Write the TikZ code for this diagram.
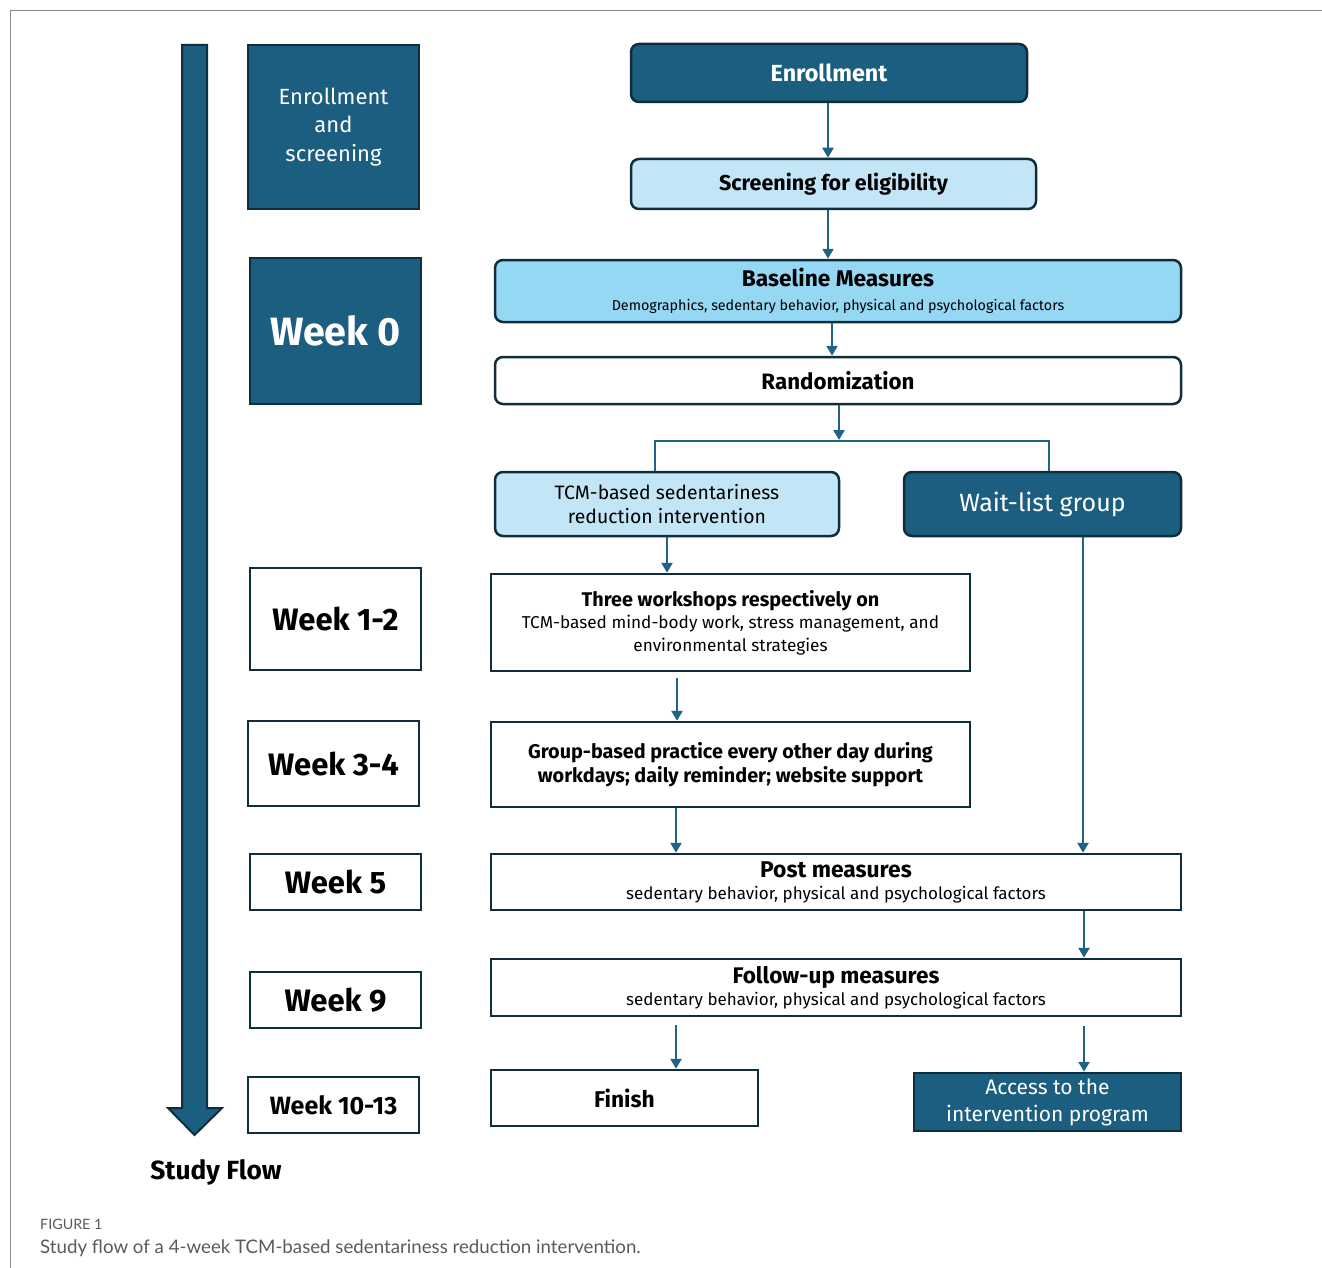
\documentclass[tikz,border=0pt]{standalone}
\usepackage{fontspec}
\setmainfont{Fira Sans}
\newfontfamily\capfont{Lato}
\usetikzlibrary{arrows.meta}
\definecolor{dkblue}{HTML}{1B5E80}
\definecolor{dkline}{HTML}{0E2E3E}
\definecolor{lblue}{HTML}{C3E6F6}
\definecolor{mblue}{HTML}{95D8F4}
\definecolor{arrcol}{HTML}{1F6485}
\definecolor{framecol}{HTML}{8A8A8A}
\definecolor{capgray}{HTML}{5A5A5A}
\newcommand{\fsz}[2]{\fontsize{#1}{#2}\selectfont}
\tikzset{
  base/.style={draw=dkline, line width=2.5pt, inner sep=0pt, align=center, text=black},
  dkbox/.style={base, fill=dkblue, text=white},
  lbbox/.style={base, fill=lblue},
  mbbox/.style={base, fill=mblue},
  wbox/.style={base, fill=white},
  rnd/.style={rounded corners=8pt},
  arr/.style={draw=arrcol, line width=2.5pt, -{Triangle[width=11pt,length=10pt]}},
  conn/.style={draw=arrcol, line width=2.5pt},
}
\begin{document}
\begin{tikzpicture}[x=1pt,y=-1pt]
\useasboundingbox (0,0) rectangle (1322,1268);
% frame
\draw[framecol, line width=1pt] (10,1268) -- (10,11) -- (1322,11);
% big arrow
\draw[fill=dkblue, draw=dkline, line width=2pt, line join=miter]
  (182,45) -- (207,45) -- (207,1108) -- (222,1108) -- (194.5,1135) -- (168,1108) -- (182,1108) -- cycle;
% left column
\node[dkbox, minimum width=171pt, minimum height=164pt, font=\fsz{22}{28.5}] (es) at (333.5,127)
  {Enrollment\\and\\screening};
\node[dkbox, minimum width=171pt, minimum height=146pt, font=\fsz{39.5}{46}\bfseries] (w0) at (335.5,331)
  {Week 0};
\node[wbox, minimum width=171pt, minimum height=102pt, font=\fsz{31}{36}\bfseries] (w12) at (335.5,619)
  {Week 1-2};
\node[wbox, minimum width=171pt, minimum height=85pt, font=\fsz{31}{36}\bfseries] (w34) at (333.5,763.5)
  {Week 3-4};
\node[wbox, minimum width=171pt, minimum height=56pt, font=\fsz{31}{36}\bfseries] (w5) at (335.5,882)
  {Week 5};
\node[wbox, minimum width=171pt, minimum height=56pt, font=\fsz{31}{36}\bfseries] (w9) at (335.5,1000)
  {Week 9};
\node[wbox, minimum width=171pt, minimum height=56pt, font=\fsz{25}{30}\bfseries] (w1013) at (333.5,1105)
  {Week 10-13};
\node[font=\fsz{26.3}{31}\bfseries] (sf) at (216,1172) {Study Flow};
% right column
\node[dkbox, rnd, minimum width=396pt, minimum height=58pt, font=\fsz{23.3}{27}\bfseries] (enr) at (829,73)
  {Enrollment};
\node[lbbox, rnd, minimum width=405pt, minimum height=50pt, font=\fsz{21.5}{25}\bfseries] (scr) at (833.5,184)
  {Screening for eligibility};
\node[mbbox, rnd, minimum width=686pt, minimum height=62pt, font=\fsz{22.7}{23.5}] (bas) at (838,291)
  {\bfseries Baseline Measures\\\fsz{14.3}{17}Demographics, sedentary behavior, physical and psychological factors};
\node[wbox, rnd, minimum width=686pt, minimum height=47pt, font=\fsz{22.3}{26}\bfseries] (rand) at (838,380.5)
  {Randomization};
\node[lbbox, rnd, minimum width=344pt, minimum height=64pt, font=\fsz{19.4}{24}] (tcm) at (667,504)
  {TCM-based sedentariness\\reduction intervention};
\node[dkbox, rnd, minimum width=277pt, minimum height=64pt, font=\fsz{25}{30}] (wait) at (1042.5,504)
  {Wait-list group};
\node[wbox, minimum width=479pt, minimum height=97pt, font=\fsz{17.2}{22.5}] (ws) at (730.5,622.5)
  {\fsz{19.8}{22.5}\bfseries Three workshops respectively on\\TCM-based mind-body work, stress management, and\\environmental strategies};
\node[wbox, minimum width=479pt, minimum height=85pt, font=\fsz{19.8}{24}\bfseries] (gp) at (730.5,764.5)
  {Group-based practice every other day during\\workdays; daily reminder; website support};
\node[wbox, minimum width=690pt, minimum height=56pt, font=\fsz{22.8}{22}] (post) at (836,882)
  {\bfseries Post measures\\\fsz{17}{19}sedentary behavior, physical and psychological factors};
\node[wbox, minimum width=690pt, minimum height=57pt, font=\fsz{22.6}{22}] (fu) at (836,987.5)
  {\bfseries Follow-up measures\\\fsz{17}{19}sedentary behavior, physical and psychological factors};
\node[wbox, minimum width=267pt, minimum height=56pt, font=\fsz{22.8}{26}\bfseries] (fin) at (624.5,1098)
  {Finish};
\node[dkbox, minimum width=267pt, minimum height=58pt, font=\fsz{21}{27}] (acc) at (1047.5,1102)
  {Access to the\\intervention program};
% connectors
\coordinate (sp) at (839,441);
\draw[arr] ([xshift=-1pt]enr.south) -- ([xshift=-5.5pt]scr.north);
\draw[arr] ([xshift=-5.5pt]scr.south) -- ([xshift=-10pt]bas.north);
\draw[arr] ([xshift=-6pt]bas.south) -- ([xshift=-6pt]rand.north);
\draw[arr, shorten >=1pt] ([xshift=1pt]rand.south) -- (sp);
\draw[conn] ([xshift=-12pt]tcm.north) |- (sp) -| ([xshift=6.5pt]wait.north);
\draw[arr] (tcm.south) -- ([xshift=-63.5pt]ws.north);
\draw[arr, shorten <=6pt] ([xshift=-53.5pt]ws.south) -- ([xshift=-53.5pt]gp.north);
\draw[arr] ([xshift=-54.5pt]gp.south) -- ([xshift=-160pt]post.north);
\draw[arr] ([xshift=40.5pt]wait.south) -- ([xshift=247pt]post.north);
\draw[arr] ([xshift=248pt]post.south) -- ([xshift=248pt]fu.north);
\draw[arr, shorten <=8pt] ([xshift=-160pt]fu.south) -- ([xshift=51.5pt]fin.north);
\draw[arr, shorten <=9pt] ([xshift=248pt]fu.south) -- ([xshift=36.5pt]acc.north);
% caption
\node[anchor=base west, inner sep=0pt, text=capgray, font=\capfont\fsz{14.3}{16}] (figl) at (40,1229)
  {FIGURE 1};
\node[anchor=base west, inner sep=0pt, text=capgray, font=\capfont\fsz{18.7}{21}] (cap) at (40,1253)
  {Study flow of a 4-week TCM-based sedentariness reduction intervention.};
\end{tikzpicture}
\end{document}
